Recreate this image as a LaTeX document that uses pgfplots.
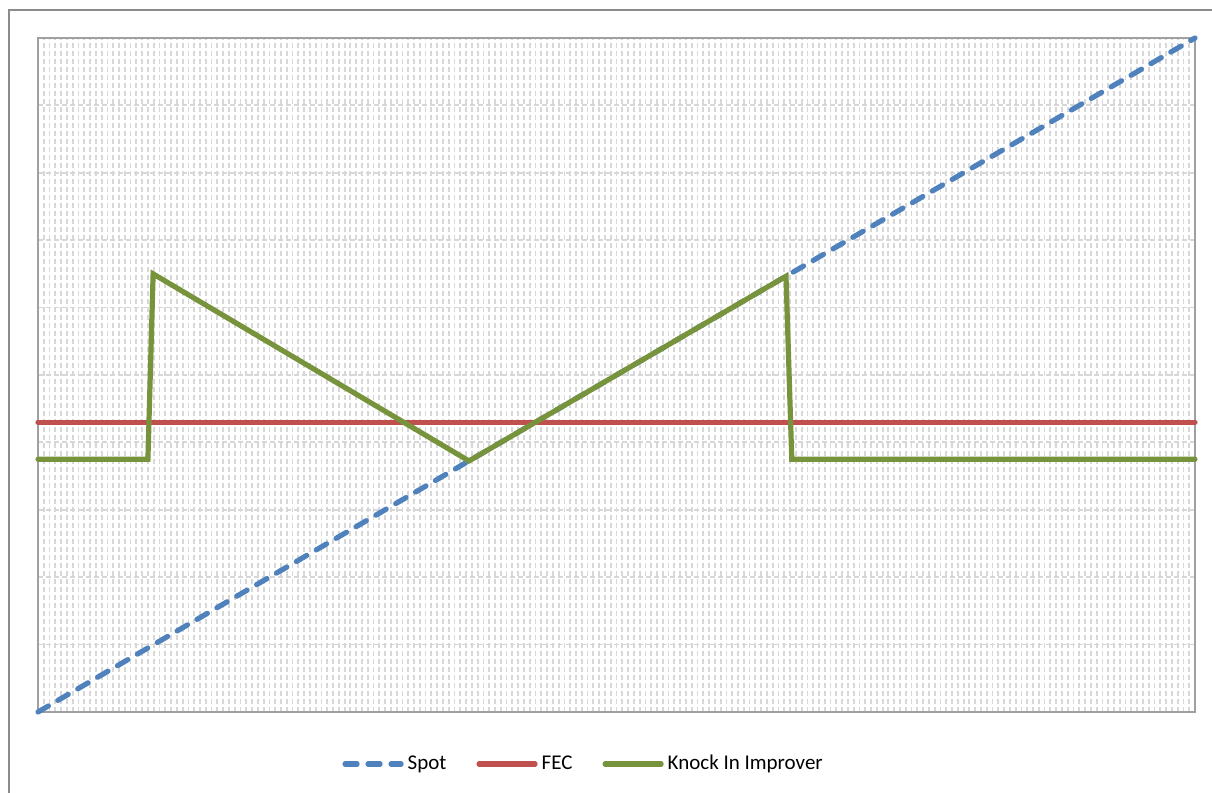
\documentclass[border=0pt]{standalone}
\usepackage{pgfplots}
\pgfplotsset{compat=1.18}
\usepackage{fontspec}
\setmainfont{Carlito}
\definecolor{spotblue}{HTML}{4F81BD}
\definecolor{fecred}{HTML}{C0504D}
\definecolor{kigreen}{HTML}{77933C}
\definecolor{gridgray}{RGB}{215,215,215}
\definecolor{framegray}{RGB}{160,160,160}

\pgfplotstableread{
x y
0 0
200 10
}\spot
\pgfplotstableread{
x y
0 4.30
200 4.30
}\fec
\pgfplotstableread{
x y
0 3.75
19 3.75
19.9 6.50
74.5 3.725
129.3 6.465
130.3 3.75
200 3.75
}\knockin

\begin{document}
\begin{tikzpicture}[x=1pt,y=1pt]
\begin{axis}[
    at={(19pt,40.5pt)},
    anchor=south west,
    scale only axis,
    width=578.5pt,
    height=337pt,
    xmin=0, xmax=200,
    ymin=0, ymax=10,
    xtick={0,1,...,200},
    xticklabels={},
    ytick={0,1,...,10},
    yticklabels={},
    major tick length=0pt,
    grid=major,
    major grid style={gridgray, line width=0.9pt, dash pattern=on 2.5pt off 1.5pt},
    axis line style={framegray, line width=0.9pt},
    clip=false,
    legend columns=3,
    legend style={
        at={(0.2628,-0.0772)}, anchor=west, draw=none, fill=none,
        inner xsep=0pt,
        font=\fontsize{10.5}{13}\selectfont,
        /tikz/every even column/.append style={column sep=13pt},
    },
    legend image code/.code={\draw[#1] (0pt,0pt) -- (28pt,0pt);},
]
\addplot[spotblue, line width=2.6pt, line cap=round, dash pattern=on 6pt off 5.5pt] table {\spot};
\addlegendentry{Spot}
\addplot[fecred, line width=2.6pt, line cap=round] table {\fec};
\addlegendentry{FEC}
\addplot[kigreen, line width=2.6pt, line cap=round, line join=miter] table {\knockin};
\addlegendentry{Knock In Improver}
\end{axis}
\draw[gray!90, line width=1pt] (4.5pt,-2pt) -- (4.5pt,391.5pt) -- (610pt,391.5pt);
\pgfresetboundingbox
\path[use as bounding box] (0pt,0pt) rectangle (606pt,396.5pt);
\end{tikzpicture}
\end{document}
